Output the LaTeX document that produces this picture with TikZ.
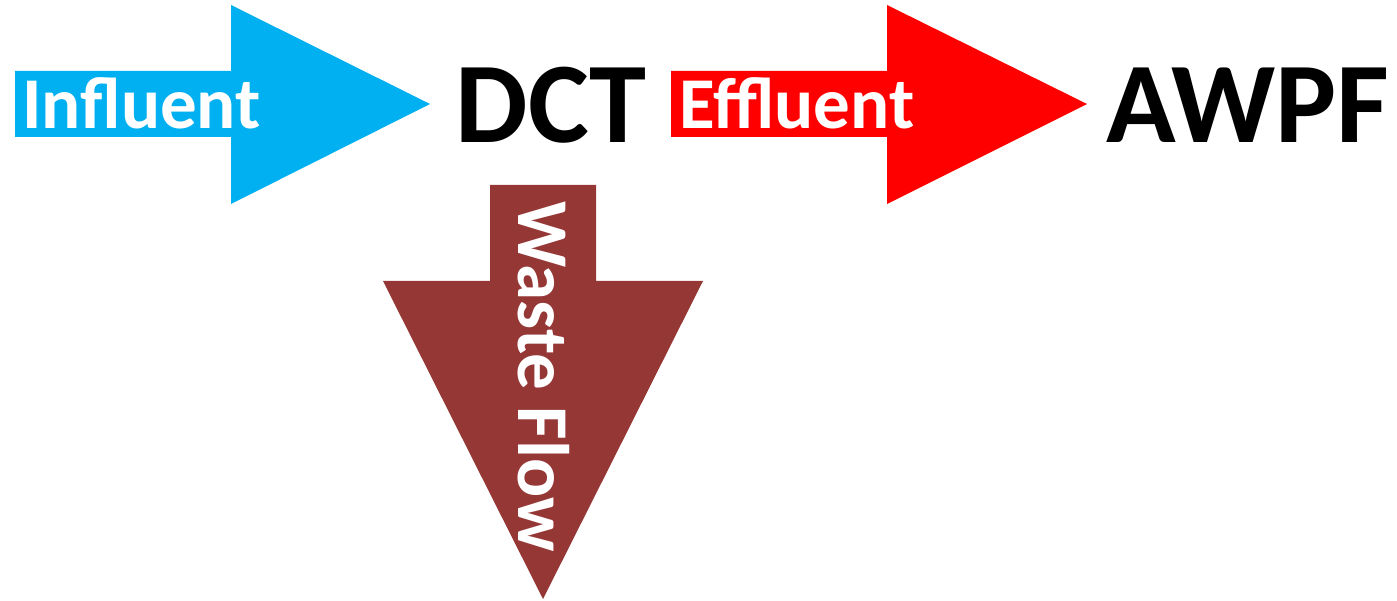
\documentclass[tikz,border=0pt]{standalone}
\usepackage{fontspec}
\setmainfont{Carlito}
\definecolor{inflblue}{HTML}{00B0F0}
\definecolor{efflred}{HTML}{FF0000}
\definecolor{wastebrown}{HTML}{953735}
\begin{document}
\begin{tikzpicture}[x=1pt,y=1pt,
  arrowlabel/.style={text=white,font=\bfseries\fontsize{73}{73}\selectfont,inner sep=0pt,anchor=base},
  unitlabel/.style={text=black,font=\bfseries\fontsize{115}{115}\selectfont,inner sep=0pt,anchor=base}]
\useasboundingbox (0,0) rectangle (1397,600);
% Influent arrow
\fill[inflblue] (15,529) -- (231,529) -- (231,595) -- (430,496) -- (231,396) -- (231,463) -- (15,463) -- cycle;
% Effluent arrow
\fill[efflred] (671,529) -- (887,529) -- (887,595) -- (1087,496) -- (887,396) -- (887,463) -- (671,463) -- cycle;
% Waste arrow
\fill[wastebrown] (490,415) -- (596,415) -- (596,319) -- (703,319) -- (543,1) -- (383,319) -- (490,319) -- cycle;
\node[arrowlabel] (infl) at (141.5,471) {Influent};
\node[arrowlabel] (effl) at (797,471) {Effluent};
\node[arrowlabel,rotate=-90] (waste) at (518,223.5) {Waste Flow};
\node[unitlabel] (dct) at (551,457) {DCT};
\node[unitlabel] (awpf) at (1248,457) {AWPF};
\end{tikzpicture}
\end{document}
